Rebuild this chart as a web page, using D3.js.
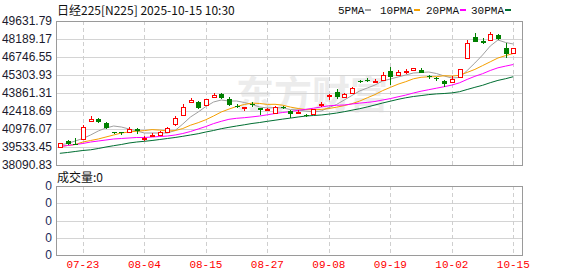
<!DOCTYPE html>
<html>
<head>
<meta charset="utf-8">
<script src="https://cdn.jsdelivr.net/npm/d3@7"></script>
<style>
  body { margin: 0; background: #fff; }
  svg { display: block; }
</style>
</head>
<body>
<div id="chart"></div>
<script>
// trading days shown (MM-DD)
var dates = ["07-17","07-18","07-22","07-23","07-24","07-25","07-28","07-29","07-30","07-31",
  "08-01","08-04","08-05","08-06","08-07","08-08","08-12","08-13","08-14","08-15",
  "08-18","08-19","08-20","08-21","08-22","08-25","08-26","08-27","08-28","08-29",
  "09-01","09-02","09-03","09-04","09-05","09-08","09-09","09-10","09-11","09-12",
  "09-16","09-17","09-18","09-19","09-22","09-24","09-25","09-26","09-29","09-30",
  "10-01","10-02","10-03","10-06","10-07","10-08","10-09","10-10","10-14","10-15"];

var opens = [39533,40014,39790,40175,41617,41777,41457,40712,40696,40776,
  40936,40175,40455,40455,40736,41337,42098,43140,43140,42875,
  43501,43821,43380,42819,42659,42940,42635,42499,42314,42739,
  42419,42258,42138,42138,42900,43541,43941,43581,43901,44823,
  44943,44783,44903,45624,45264,45504,45665,45705,45184,45063,
  44863,44783,45120,46722,48349,48029,48109,48510,47428,47067];
var highs = [39894,40134,40231,41257,41978,41818,41537,40752,40736,41136,
  41056,40375,40655,40816,41176,41994,42940,43461,43220,43420,
  43901,43885,43501,42940,42779,43164,42659,42659,42819,42819,
  42499,42459,42218,42619,43140,43821,44142,43861,44382,44943,
  45063,45023,45584,45945,45705,45745,45905,45825,45304,45104,
  44943,45224,45801,48149,48646,48309,48726,48550,47845,47468];
var lows = [39453,39654,39654,40094,41537,41457,40976,40575,40495,40736,
  40575,40014,40335,40415,40655,41216,42018,43060,42579,42819,
  43461,43380,42819,42659,42419,42739,42098,42379,42258,42579,
  41858,42178,41938,42098,42739,43300,43420,43541,43861,44663,
  44743,44663,44823,44502,45224,45384,45624,45464,44983,44783,
  44342,44743,45063,46586,47949,47828,48069,48125,46642,47027];
var closes = [39814,39774,39734,41136,41777,41497,41056,40655,40655,41016,
  40736,40255,40535,40696,41056,41818,42739,43340,42659,43356,
  43701,43461,42900,42739,42715,42883,42459,42579,42763,42659,
  42178,42338,42058,42539,42980,43661,43501,43821,44302,44743,
  44863,44863,45304,45104,45544,45624,45825,45504,45128,44983,
  44583,45023,45761,47893,47973,47869,48590,48165,46947,47428];

// moving averages
var ma5 = [39694,39814,40014,40215,40495,40816,41056,41216,41136,40976,
  40816,40655,40655,40655,40655,40856,41377,41938,42338,42779,
  43140,43300,43220,43220,43100,42940,42739,42659,42699,42659,
  42539,42499,42419,42338,42419,42699,42940,43300,43661,44022,
  44262,44502,44823,44983,45144,45304,45464,45504,45544,45424,
  45224,45063,45104,45665,46266,46907,47628,48109,47909,47788];
var ma10 = [39573,39654,39734,39934,40054,40175,40335,40495,40655,40736,
  40800,40848,40928,40888,40816,40848,41016,41281,41481,41721,
  42018,42338,42571,42779,42940,43052,43020,42948,42956,42883,
  42731,42619,42539,42515,42547,42619,42723,42851,43004,43212,
  43477,43733,44054,44310,44567,44767,44999,45120,45160,45168,
  45248,45216,45280,45512,45753,46057,46362,46666,46859,47027];
var ma20 = [39573,39654,39734,39814,39934,40014,40094,40175,40215,40255,
  40295,40295,40335,40375,40415,40495,40615,40776,40976,41176,
  41409,41593,41753,41834,41882,41946,42018,42114,42218,42298,
  42371,42475,42555,42643,42739,42835,42875,42900,42980,43052,
  43108,43180,43300,43412,43557,43693,43861,44006,44126,44246,
  44366,44494,44679,44951,45200,45408,45665,45881,46017,46145];
var ma30 = [39028,39093,39173,39253,39309,39413,39533,39638,39734,39854,
  39934,39990,40054,40134,40215,40295,40391,40495,40599,40736,
  40856,41000,41112,41216,41313,41417,41497,41593,41681,41769,
  41850,41938,42014,42058,42098,42170,42254,42363,42483,42603,
  42743,42900,43060,43204,43352,43477,43581,43653,43733,43789,
  43821,43869,43965,44142,44318,44478,44687,44871,45007,45168];

var yTicks = [49631.79, 48189.17, 46746.55, 45303.93, 43861.31, 42418.69, 40976.07, 39533.45, 38090.83];
var volTicks = [0, 0, 0, 0, 0];
var dateTicks = ["07-23","08-04","08-15","08-27","09-08","09-19","10-02","10-15"];
var maNames = ["5PMA", "10PMA", "20PMA", "30PMA"];
var maColors = ["#a0a0a0", "#f5a000", "#ff00ff", "#006e32"];

var W = 578, H = 276;
var pLeft = 56, pRight = 522, pTop = 21, pBottom = 165;
var vTop = 186, vBottom = 255;
var upColor = "#ff0000", downColor = "#008000";

var svg = d3.select("#chart").append("svg")
  .attr("width", W).attr("height", H)
  .style("font-family", "'Liberation Sans', Arial, sans-serif");

var x = d3.scaleBand().domain(dates).range([pLeft, pLeft + dates.length * 7.686]);
var cx = function(d) { return x(d) + x.bandwidth() / 2; };
var y = d3.scaleLinear().domain([yTicks[yTicks.length - 1], yTicks[0]]).range([pBottom, pTop]);
var yv = d3.scaleLinear().domain([0, volTicks.length - 1]).range([vBottom, vTop]);

var px = function(v) { return Math.round(v) + 0.5; };

// watermark
svg.append("text")
  .attr("x", 236).attr("y", 108)
  .attr("font-size", 38).attr("font-weight", "bold")
  .attr("font-family", "'Noto Sans CJK SC', sans-serif")
  .attr("fill", "#ececec")
  .text("东方财富");

// title
svg.append("text")
  .attr("x", 57).attr("y", 15)
  .attr("font-size", 12)
  .attr("font-family", "'Noto Sans CJK SC', sans-serif")
  .attr("fill", "#111")
  .text("日经225[N225] 2025-10-15 10:30");

// legend
var legX = [338, 380, 426, 471];
maNames.forEach(function(n, i) {
  var t = svg.append("text")
    .attr("x", legX[i]).attr("y", 14)
    .attr("font-size", 11)
    .attr("font-family", "'Liberation Mono', monospace")
    .attr("fill", "#111")
    .text(n);
  var tw = t.node().getComputedTextLength();
  svg.append("rect")
    .attr("x", Math.round(legX[i] + tw + 1)).attr("y", 9)
    .attr("width", 6).attr("height", 2)
    .attr("fill", maColors[i]);
});

// panels: grid + borders
function panel(y0, y1, gridYs) {
  var g = svg.append("g").attr("shape-rendering", "crispEdges");
  g.selectAll("line.h").data(gridYs).enter().append("line")
    .attr("x1", pLeft).attr("x2", pRight)
    .attr("y1", function(d) { return px(d); }).attr("y2", function(d) { return px(d); })
    .attr("stroke", "#d4d4d4");
  g.selectAll("line.v").data(dateTicks).enter().append("line")
    .attr("x1", function(d) { return px(cx(d)); }).attr("x2", function(d) { return px(cx(d)); })
    .attr("y1", y0).attr("y2", y1)
    .attr("stroke", "#cfcfcf").attr("stroke-dasharray", "4,3");
  g.append("rect")
    .attr("x", pLeft + 0.5).attr("y", y0 + 0.5)
    .attr("width", pRight - pLeft).attr("height", y1 - y0)
    .attr("fill", "none").attr("stroke", "#9a9a9a");
}
panel(pTop, pBottom, yTicks.slice(1, -1).map(y));
panel(vTop, vBottom, d3.range(1, volTicks.length - 1).map(yv));

// y axis labels (price)
var yAxis = d3.axisLeft(y).tickValues(yTicks).tickSize(0).tickPadding(4)
  .tickFormat(function(d) { return d.toFixed(2); });
var ya = svg.append("g").attr("transform", "translate(" + pLeft + ",0)").call(yAxis);
ya.select(".domain").remove();
ya.selectAll("text").attr("font-size", 12).attr("fill", "#1a1a2e")
  .attr("font-family", "'Liberation Sans', Arial, sans-serif");

// volume axis labels
var va = svg.append("g").attr("transform", "translate(" + pLeft + ",0)");
va.selectAll("text").data(volTicks).enter().append("text")
  .attr("x", -4).attr("y", function(d, i) { return yv(i); })
  .attr("dy", "0.35em").attr("text-anchor", "end")
  .attr("font-size", 12).attr("fill", "#1a2a5a")
  .text(function(d) { return d; });

svg.append("text")
  .attr("x", 57).attr("y", 182)
  .attr("font-size", 12)
  .attr("font-family", "'Noto Sans CJK SC', sans-serif")
  .attr("fill", "#111")
  .text("成交量:0");

// date axis
var xAxis = d3.axisBottom(x).tickValues(dateTicks).tickSize(0).tickPadding(0);
var xa = svg.append("g").attr("transform", "translate(0," + (vBottom + 5) + ")").call(xAxis);
xa.select(".domain").remove();
xa.selectAll("text").attr("font-size", 11).attr("fill", "#ff0000")
  .attr("font-family", "'Liberation Mono', monospace");

// moving averages
var plot = svg.append("g");
[ma5, ma10, ma20, ma30].forEach(function(arr, k) {
  var line = d3.line()
    .x(function(v, i) { return cx(dates[i]); })
    .y(function(v) { return y(v); });
  plot.append("path").datum(arr)
    .attr("d", line)
    .attr("fill", "none")
    .attr("stroke", maColors[k])
    .attr("stroke-width", 1);
});

// candles
var bars = dates.map(function(d, i) {
  return { d: d, o: opens[i], h: highs[i], l: lows[i], c: closes[i] };
});
var cg = svg.append("g").attr("shape-rendering", "crispEdges");
var c = cg.selectAll("g.k").data(bars).enter().append("g");
c.append("line")
  .attr("x1", function(b) { return px(cx(b.d)); }).attr("x2", function(b) { return px(cx(b.d)); })
  .attr("y1", function(b) { return Math.round(y(b.h)); })
  .attr("y2", function(b) { return Math.round(y(b.l)); })
  .attr("stroke", function(b) { return b.c >= b.o ? upColor : downColor; });
c.append("rect")
  .attr("x", function(b) { return b.c >= b.o ? Math.round(cx(b.d)) - 2 + 0.5 : Math.round(cx(b.d)) - 2; })
  .attr("y", function(b) {
    var t = Math.round(y(Math.max(b.o, b.c)));
    return b.c >= b.o ? t + 0.5 : t;
  })
  .attr("width", function(b) { return b.c >= b.o ? 4 : 5; })
  .attr("height", function(b) {
    return Math.max(1, Math.round(Math.abs(y(b.o) - y(b.c))));
  })
  .attr("fill", function(b) { return b.c >= b.o ? "#fff" : downColor; })
  .attr("stroke", function(b) { return b.c >= b.o ? upColor : "none"; });
</script>
</body>
</html>
